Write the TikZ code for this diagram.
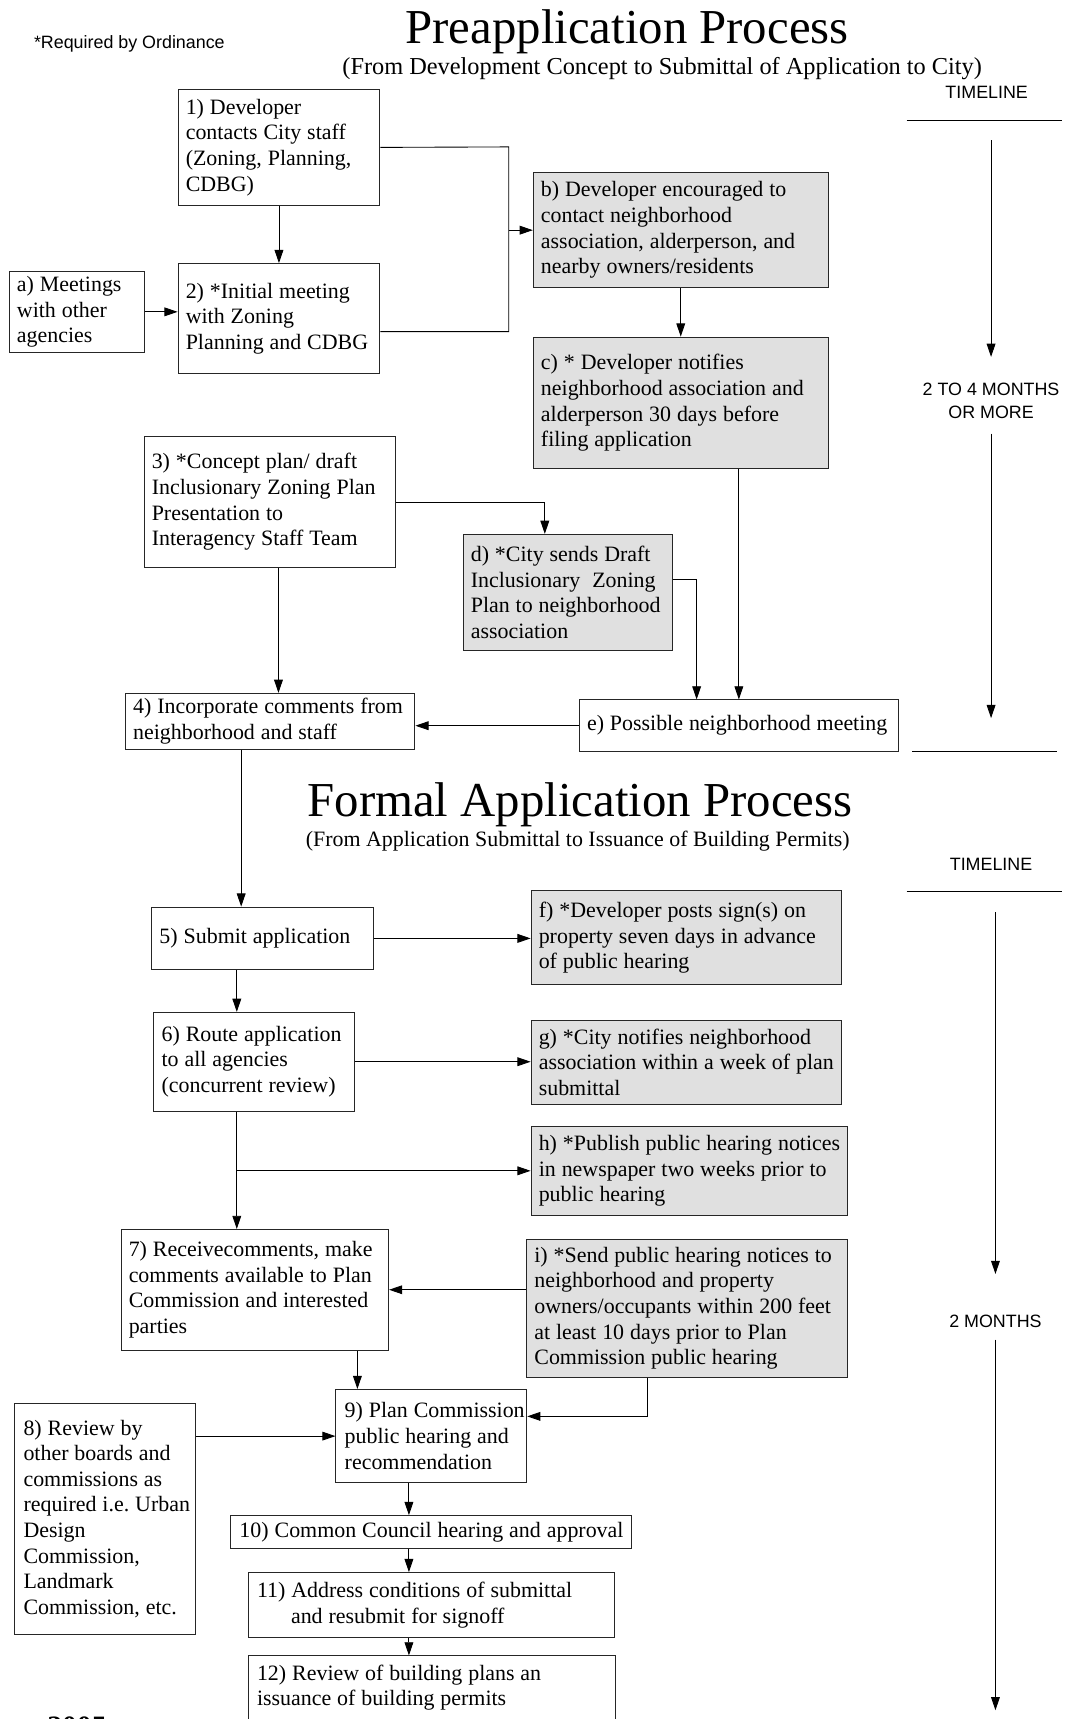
\documentclass[tikz,border=0pt]{standalone}
\usepackage{fontspec}
\setmainfont{Liberation Serif}
\newfontfamily\arialfont{Liberation Sans}
\usetikzlibrary{arrows.meta, calc}
\definecolor{notegray}{gray}{0.88}

\begin{document}
\begin{tikzpicture}[x=1pt, y=-1pt]
\tikzset{every node/.style={font=\fontsize{20}{23.4}\selectfont}, stepbox/.style={draw=black!85, line width=0.9pt, anchor=north west, align=left, inner xsep=7pt, inner ysep=4pt, execute at begin node={\rightskip=-40pt plus 1fil\relax\spaceskip=.27em\relax\xspaceskip=.27em\relax\hyphenpenalty=10000\relax}}, notebox/.style={stepbox, fill=notegray}, flow/.style={line width=0.8pt, -{Triangle[length=12pt, width=8pt]}}, rule/.style={line width=0.8pt}, sans/.style={font=\arialfont\fontsize{16.3}{21}\selectfont, inner sep=0pt, align=center}}

% Normalize bounding box
\useasboundingbox (0,0) rectangle (971,1568);

% headings
\node [sans, anchor=base] (req) at (118,44) {*Required by Ordinance};
\node [font=\fontsize{44.5}{50}\selectfont, anchor=base] (title1) at (572,40) {Preapplication Process};
\node [font=\fontsize{22.2}{26}\selectfont, anchor=base] (sub1) at (604,68) {(From Development Concept to Submittal of Application to City)};
\node [font=\fontsize{44.5}{50}\selectfont, anchor=base] (title2) at (529,745) {Formal Application Process};
\node [font=\fontsize{20}{24}\selectfont, anchor=base] (sub2) at (527,772) {(From Application Submittal to Issuance of Building Permits)};
\node [font=\bfseries\fontsize{27}{30}\selectfont, anchor=north west, inner sep=0pt] (year) at (43,1566) {2005};

% preapplication boxes
\node [stepbox, text width=170pt, minimum height=106pt] (P1) at (162,81) {1) Developer\\contacts City staff\\(Zoning, Planning,\\CDBG)};
\node [stepbox, text width=170pt, minimum height=100pt] (P2) at (162,240) {2) *Initial meeting\\with Zoning\\Planning and CDBG};
\node [stepbox, text width=109pt, minimum height=74pt] (Na) at (8,247) {a) Meetings\\with other\\agencies};
\node [notebox, text width=255pt, minimum height=105pt] (Nb) at (486,157) {b) Developer encouraged to\\contact neighborhood\\association, alderperson, and\\nearby owners/residents};
\node [notebox, text width=255pt, minimum height=120pt] (Nc) at (486,307) {c) * Developer notifies\\neighborhood association and\\alderperson 30 days before\\filing application};
\node [stepbox, text width=215pt, minimum height=119pt] (P3) at (131,398) {3) *Concept plan/ draft\\Inclusionary Zoning Plan\\Presentation to\\Interagency Staff Team};
\node [notebox, text width=177pt, minimum height=106pt] (Nd) at (422,487) {d) *City sends Draft\\Inclusionary\ \ Zoning\\Plan to neighborhood\\association};
\node [stepbox, text width=250pt, minimum height=51pt] (P4) at (114,632) {4) Incorporate comments from\\neighborhood and staff};
\node [stepbox, text width=277pt, minimum height=47pt] (Ne) at (528,638) {e) Possible neighborhood meeting};

% formal application boxes
\node [stepbox, text width=188pt, minimum height=57pt] (P5) at (138,827) {5) Submit application};
\node [notebox, text width=269pt, minimum height=86pt] (Nf) at (484,812) {f) *Developer posts sign(s) on\\property seven days in advance\\of public hearing};
\node [stepbox, text width=169pt, minimum height=90pt] (P6) at (140,923) {6) Route application\\to all agencies\\(concurrent review)};
\node [notebox, text width=269pt, minimum height=77pt] (Ng) at (484,930) {g) *City notifies neighborhood\\association within a week of plan\\submittal};
\node [notebox, text width=275pt, minimum height=81pt] (Nh) at (484,1027) {h) *Publish public hearing notices\\in newspaper two weeks prior to\\public hearing};
\node [stepbox, text width=230pt, minimum height=110pt] (P7) at (110,1121) {7) Receivecomments, make\\comments available to Plan\\Commission and interested\\parties};
\node [notebox, text width=279pt, minimum height=126pt] (Ni) at (480,1130) {i) *Send public hearing notices to\\neighborhood and property\\owners/occupants within 200 feet\\at least 10 days prior to Plan\\Commission public hearing};
\node [stepbox, inner xsep=8pt, text width=158pt, minimum height=85pt] (P9) at (306,1267) {9) Plan Commission\\public hearing and\\recommendation};
\node [stepbox, inner xsep=8pt, text width=149pt, minimum height=210pt] (P8) at (13,1280) {8) Review by\\other boards and\\commissions as\\required i.e. Urban\\Design\\Commission,\\Landmark\\Commission, etc.};
\node [stepbox, inner xsep=8pt, text width=350pt, minimum height=30pt, inner ysep=2pt] (P10) at (210,1382) {10) Common Council hearing and approval};
\node [stepbox, inner xsep=8pt, text width=318pt, minimum height=59pt] (P11) at (226,1434) {11) Address conditions of submittal\\\hspace*{31pt}and resubmit for signoff};
\node [stepbox, inner xsep=8pt, text width=319pt, minimum height=58pt] (P12) at (226,1510) {12) Review of building plans an\\issuance of building permits};

% connectors, preapplication
\coordinate (jb) at (464,134);
\draw [flow] (P1) -- (P2);
\draw [flow] (Na.east) -- (Na.east -| P2.west);
\draw [rule] (P1.east) -- (jb) |- ($(P2.east)+(0,12)$);
\draw [flow] (jb |- Nb.west) -- (Nb.west);
\draw [flow] (Nb) -- (Nc);
\draw [flow] (Nc.south -| Ne.north) -- (Ne.north);
\draw [flow] (P3.east) -| ($(Nd.north)+(-21,0)$);
\draw [flow] ($(Nd.east)+(0,-12)$) -| ($(Ne.north)+(-38.5,0)$);
\draw [flow] (P3.south -| 254,0) -- (P4.north -| 254,0);
\draw [flow] (Ne.west) -- (Ne.west -| P4.east);
\draw [flow] (P4.south -| 220,0) -- (P5.north -| 220,0);

% connectors, formal application
\draw [flow] (P5.east) -- (P5.east -| Nf.west);
\draw [flow] (P5.south -| 216,0) -- (P6.north -| 216,0);
\draw [flow] (P6.east) -- (P6.east -| Ng.west);
\draw [flow] (P6.south -| 216,0) -- (P7.north -| 216,0);
\draw [flow] (Nh.west -| 216,0) -- (Nh.west);
\draw [flow] (Ni.west |- P7.east) -- (P7.east);
\draw [flow] (P7.south -| 326,0) -- (P9.north -| 326,0);
\draw [flow] (Ni.south -| 591,0) |- ($(P9.east)+(0,-18)$);
\draw [flow] (P9.west -| P8.east) -- (P9.west);
\draw [flow] (P9.south -| 373,0) -- (P10.north -| 373,0);
\draw [flow] (P10.south -| 373,0) -- (P11.north -| 373,0);
\draw [flow] (P11.south -| 373,0) -- (P12.north -| 373,0);

% timelines
\node [sans, anchor=base] (tl1) at (900,90) {TIMELINE};
\draw [rule] (827,110) -- (969,110);
\node [sans] (m1) at (904,366) {2 TO 4 MONTHS\\OR MORE};
\coordinate (t1a) at (904,128);
\coordinate (t1b) at (904,655);
\draw [flow] (t1a) -- ([yshift=24pt]m1.north);
\draw [flow] ([yshift=-13pt]m1.south) -- (t1b);
\draw [rule] (832,685) -- (964,685);

\node [sans, anchor=base] (tl2) at (904,794) {TIMELINE};
\draw [rule] (827,813) -- (969,813);
\node [sans] (m2) at (908,1205) {2 MONTHS};
\coordinate (t2a) at (908,832);
\coordinate (t2b) at (908,1560);
\draw [flow] (t2a) -- ([yshift=37pt]m2.north);
\draw [flow] ([yshift=-11pt]m2.south) -- (t2b);

\end{tikzpicture}
\end{document}
